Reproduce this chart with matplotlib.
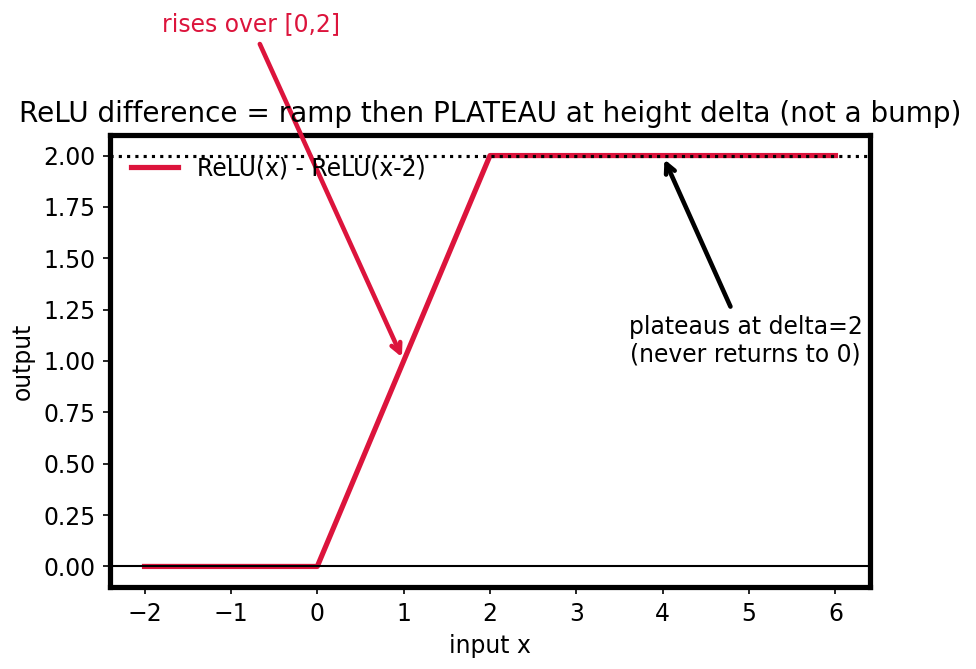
import numpy as np
import matplotlib
matplotlib.use('Agg')
import matplotlib.pyplot as plt

# ReLU difference, sampled at the kinks
x_pts = [-2, 0, 2, 6]
y_pts = [0.0, 0.0, 2.0, 2.0]
delta = 2.0
x_ticks = [-2, -1, 0, 1, 2, 3, 4, 5, 6]
y_ticks = [0.00, 0.25, 0.50, 0.75, 1.00, 1.25, 1.50, 1.75, 2.00]

col = 'crimson'
fs = 11.3
plt.rcParams['font.size'] = fs

fig = plt.figure(figsize=(976/150, 669/150), dpi=150, facecolor='white')
ax = fig.add_axes([110/976, 1-587/669, 760/976, 452/669])

ax.plot(x_pts, y_pts, '-', c=col, lw=2.5, label='ReLU(x) - ReLU(x-2)')
ax.axhline(delta, color='k', ls=':', lw=1.5, zorder=3)
ax.axhline(0, color='k', lw=1)

ax.annotate('rises over [0,2]', xy=(1, 1), xytext=(-0.77, 2.64),
            ha='center', va='center', color=col, fontsize=fs,
            arrowprops=dict(arrowstyle='->', color=col, lw=2.2),
            annotation_clip=False)
ax.annotate('plateaus at delta=2\n(never returns to 0)', xy=(4, delta), xytext=(4.96, 1.1),
            ha='center', va='center', fontsize=fs,
            arrowprops=dict(arrowstyle='->', color='k', lw=2.2))

ax.set_xticks(x_ticks)
ax.set_yticks(y_ticks)
ax.set_xlim(-2.4, 6.4)
ax.set_ylim(-0.1, 2.1)
ax.set(xlabel='input x', ylabel='output')
ax.set_title('ReLU difference = ramp then PLATEAU at height delta (not a bump)', fontsize=13.4)
for s in ax.spines.values():
    s.set_linewidth(2.5)
ax.legend(loc='upper left', frameon=False)

fig.savefig('out.png', dpi=150)
